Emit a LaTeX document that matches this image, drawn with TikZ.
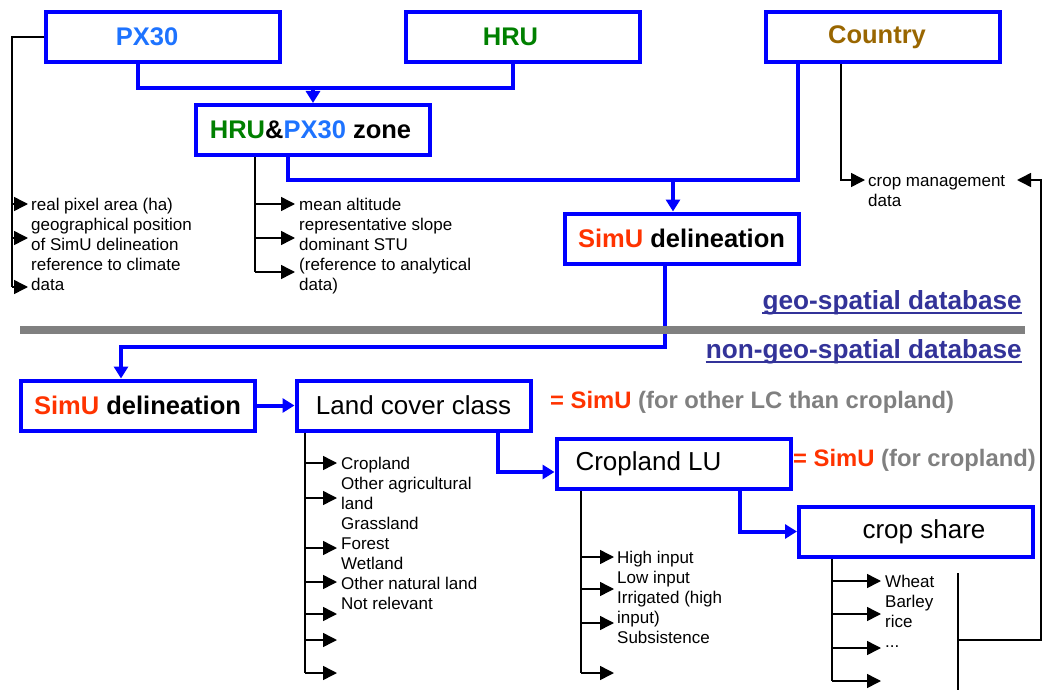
\documentclass[tikz,border=0pt]{standalone}
\usepackage{fontspec}
\setmainfont{Liberation Sans}
\usetikzlibrary{arrows.meta}

\definecolor{boxblue}{HTML}{0000FF}
\definecolor{pxblue}{HTML}{1E73FF}
\definecolor{hrugreen}{HTML}{008000}
\definecolor{ctybrown}{HTML}{996600}
\definecolor{simured}{HTML}{FF3300}
\definecolor{notegray}{HTML}{808080}
\definecolor{dbblue}{HTML}{333399}
\definecolor{bargray}{HTML}{808080}

\begin{document}
\begin{tikzpicture}[x=1pt,y=-1pt,
  box/.style={draw=boxblue, line width=4pt, minimum width=234pt, minimum height=50pt,
    inner sep=0pt, font=\fontsize{25.5}{30}\selectfont\bfseries},
  plainbox/.style={box, font=\fontsize{26}{30}\selectfont},
  bl/.style={draw=boxblue, line width=4pt},
  bla/.style={bl, -{Triangle[length=12pt,width=14pt]}},
  bk/.style={draw=black, line width=1.5pt},
  bka/.style={bk, -{Triangle[length=14pt,width=14pt]}},
  % multi-line lists: anchored at the baseline of their last line
  txt/.style={font=\fontsize{17}{20}\selectfont, align=left, inner sep=0pt, anchor=base west},
  note/.style={font=\fontsize{23.8}{28}\selectfont\bfseries, inner sep=0pt, anchor=base west},
  db/.style={font=\fontsize{26.2}{30}\selectfont\bfseries, text=dbblue, inner sep=0pt, anchor=base east},
  underl/.style={draw=dbblue, line width=2pt}]
\useasboundingbox (0,0) rectangle (1042,693);

% ---------- geo-spatial boxes ----------
\node[box] (px)  at (163,37)    {\color{pxblue}PX30\kern32pt};
\node[box] (hru) at (522.5,37)  {\color{hrugreen}HRU\kern24pt};
\node[box] (cty) at (882.5,37)  {\color{ctybrown}Country\kern11pt};
\node[box] (hrupx) at (313,130) {\textcolor{hrugreen}{HRU}\&\textcolor{pxblue}{PX30} zone\kern5pt};
\node[box] (simu1) at (681.5,238.5) {\textcolor{simured}{SimU} delineation};

% ---------- non-geo-spatial boxes ----------
\node[box] (simu2) at (137.5,405.5) {\textcolor{simured}{SimU} delineation};
\node[plainbox] (lc)  at (413.5,405.5) {Land cover class};
\node[plainbox] (clu) at (673.5,464)   {Cropland LU\kern50pt};
\node[plainbox] (cs)  at (916,531.5)   {\kern16pt crop share};

% ---------- blue flow ----------
\coordinate (j1) at (313,88);
\draw[bl] ([xshift=-25pt]px.south) |- (j1) -| ([xshift=-9.5pt]hru.south);
\draw[bla] (j1) -- (hrupx.north);

\coordinate (j2) at (673,180);
\draw[bl] ([xshift=-25pt]hrupx.south) |- (j2) -| ([xshift=-84.5pt]cty.south);
\draw[bla] (j2) -- ([xshift=-8.5pt]simu1.north);

\coordinate (j3) at (121,347);
\draw[bla] ([xshift=-16.5pt]simu1.south) |- (j3) -- ([xshift=-16.5pt]simu2.north);
\draw[bla] (simu2.east) -- (lc.west);
\draw[bla] ([xshift=84.5pt]lc.south) |- ([yshift=-8pt]clu.west);
\draw[bla] ([xshift=66.5pt]clu.south) |- (cs.west);

% ---------- database separator ----------
\draw[bargray, line width=8pt] (20,330) -- (1025,330);
\node[db] (geo) at (1022,309) {geo-spatial database};
\draw[underl] ([yshift=-4pt]geo.base west) -- ([yshift=-4pt]geo.base east);
\node[db] (ngeo) at (1022,358) {non-geo-spatial database};
\draw[underl] ([yshift=-4pt]ngeo.base west) -- ([yshift=-4pt]ngeo.base east);

% ---------- SimU notes ----------
\node[note] (n1) at (550,408) {\textcolor{simured}{= SimU} \textcolor{notegray}{(for other LC than cropland)}};
\node[note] (n2) at (793,466) {\textcolor{simured}{= SimU} \textcolor{notegray}{(for cropland)}};

% ---------- PX30 attributes ----------
\draw[bk] (px.west) -| (12,287);
\foreach \y in {204,238,287} \draw[bka] (12,\y) -- (28,\y);
\node[txt] (l1) at (31,290) {real pixel area (ha)\\geographical position\\of SimU delineation\\reference to climate\\data};

% ---------- zone attributes ----------
\draw[bk] ([xshift=-58pt]hrupx.south) -- (255,272);
\foreach \y in {204,238,272} \draw[bka] (255,\y) -- (295,\y);
\node[txt] (l2) at (299,290) {mean altitude\\representative slope\\dominant STU\\(reference to analytical\\data)};

% ---------- country attributes ----------
\draw[bka] ([xshift=-41.5pt]cty.south) |- (865,180);
\node[txt] (l3) at (868,206) {crop management\\data};
\draw[bka] (958,640) -- (1041,640) -- (1041,180) -- (1017,180);
\draw[bk] (958,573) -- (958,690);

% ---------- land cover classes ----------
\draw[bk] ([xshift=-108.5pt]lc.south) -- (305,673);
\foreach \y in {463,498,548,582,614,640,673} \draw[bka] (305,\y) -- (337,\y);
\node[txt] (l4) at (341,609) {Cropland\\Other agricultural\\land\\Grassland\\Forest\\Wetland\\Other natural land\\Not relevant};

% ---------- cropland management ----------
\draw[bk] ([xshift=-92.5pt]clu.south) -- (581,673);
\foreach \y in {557,589,623,673} \draw[bka] (581,\y) -- (614,\y);
\node[txt] (l5) at (617,643) {High input\\Low input\\Irrigated (high\\input)\\Subsistence};

% ---------- crops ----------
\draw[bk] ([xshift=-84pt]cs.south) -- (832,681);
\foreach \y in {581,614,648,681} \draw[bka] (832,\y) -- (881,\y);
\node[txt] (l6) at (885,647) {Wheat\\Barley\\rice\\...};
\end{tikzpicture}
\end{document}
